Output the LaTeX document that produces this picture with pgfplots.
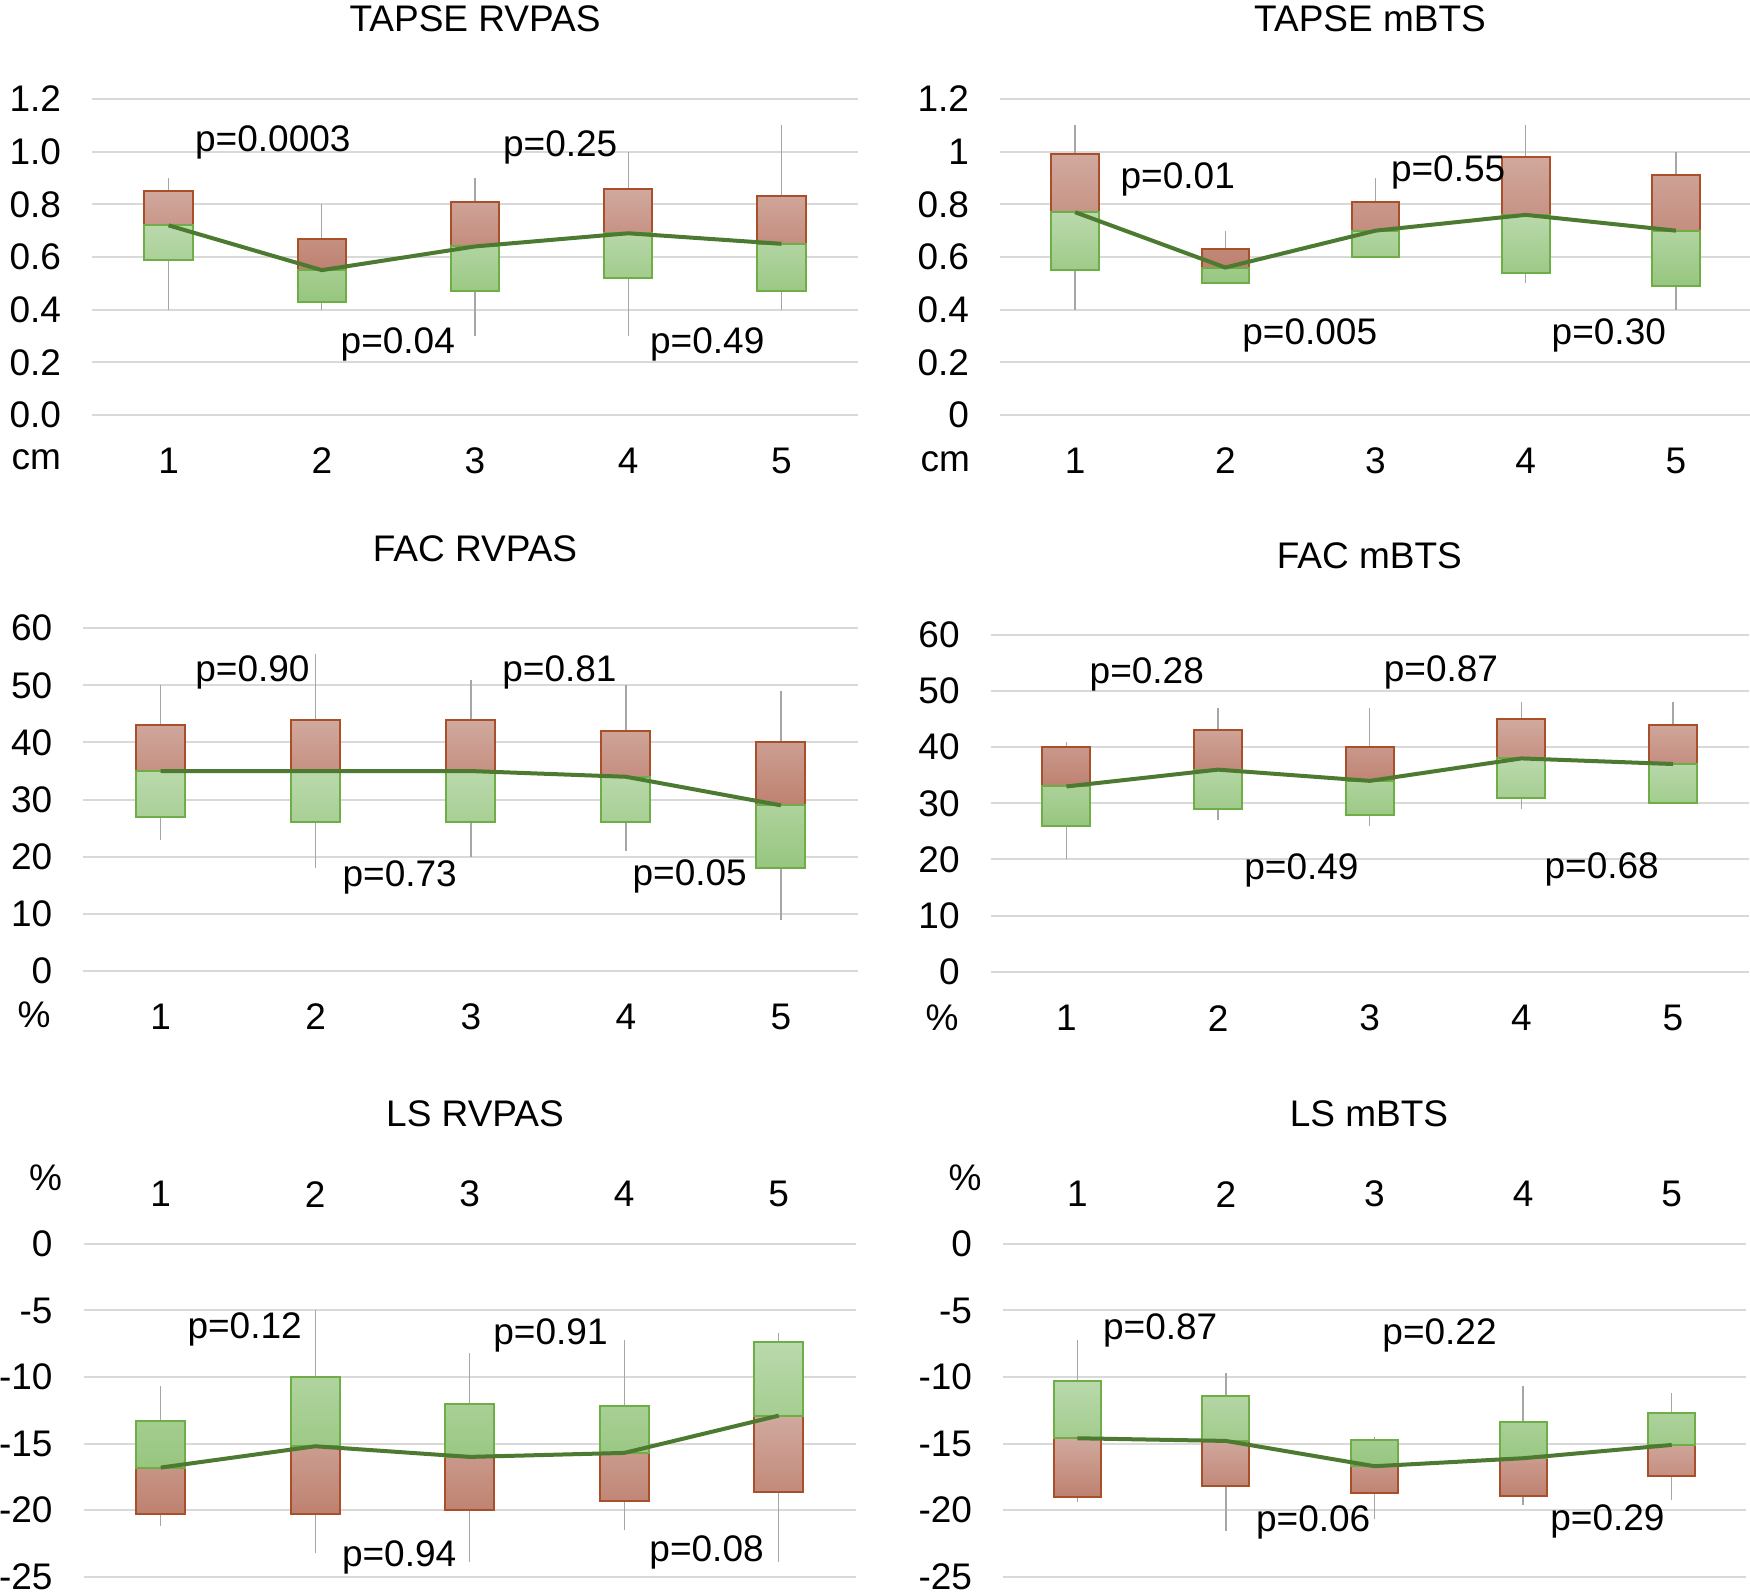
\documentclass[border=0pt]{standalone}
\usepackage{pgfplots}
\pgfplotsset{compat=1.18}
\usepackage{pgfplotstable}
\usepackage{fontspec}
\setmainfont{Liberation Sans}

\definecolor{gridc}{HTML}{D9D9D9}
\definecolor{whisk}{HTML}{A6A6A6}
\definecolor{rtop}{HTML}{D1A99E}
\definecolor{rbot}{HTML}{BE8170}
\definecolor{redb}{HTML}{A9502B}
\definecolor{gtop}{HTML}{BAD9AC}
\definecolor{gbot}{HTML}{97C67F}
\definecolor{greenb}{HTML}{6FAD47}
\definecolor{medc}{HTML}{4B7A30}

% near = box end nearer to zero, far = box end farther from zero
\pgfplotstableread{
x near med far lo hi
1 0.59 0.72 0.85 0.40 0.90
2 0.43 0.55 0.67 0.40 0.80
3 0.47 0.64 0.81 0.30 0.90
4 0.52 0.69 0.86 0.30 1.00
5 0.47 0.65 0.83 0.40 1.10
}\tR
\pgfplotstableread{
x near med far lo hi
1 0.55 0.77 0.99 0.40 1.10
2 0.50 0.56 0.63 0.50 0.70
3 0.60 0.70 0.81 0.60 0.90
4 0.54 0.76 0.98 0.50 1.10
5 0.49 0.70 0.91 0.40 1.00
}\tM
\pgfplotstableread{
x near med far lo hi
1 27 35 43 23 50
2 26 35 44 18 55.5
3 26 35 44 20 51
4 26 34 42 21 50
5 18 29 40 9 49
}\fR
\pgfplotstableread{
x near med far lo hi
1 26 33 40 20 41
2 29 36 43 27 47
3 28 34 40 26 47
4 31 38 45 29 48
5 30 37 44 30 48
}\fM
\pgfplotstableread{
x near med far lo hi
1 -13.3 -16.8 -20.3 -21.2 -10.7
2 -10.0 -15.2 -20.3 -23.2 -5.0
3 -12.0 -16.0 -20.0 -23.9 -8.2
4 -12.2 -15.7 -19.3 -21.5 -7.2
5 -7.4 -12.9 -18.6 -23.9 -6.7
}\lR
\pgfplotstableread{
x near med far lo hi
1 -10.3 -14.6 -19.0 -19.4 -7.2
2 -11.4 -14.8 -18.2 -21.6 -9.7
3 -14.7 -16.7 -18.7 -20.7 -14.5
4 -13.4 -16.1 -18.9 -19.6 -10.7
5 -12.7 -15.1 -17.4 -19.2 -11.2
}\lM

\tikzset{plab/.style={anchor=base west, inner sep=0pt}}

\pgfplotsset{
  base/.style={scale only axis, anchor=south west, clip=false,
    xmin=0.5, xmax=5.5, xtick={1,2,3,4,5}},
  P1/.style={base, at={(36.8bp,472.4bp)}, width=306.4bp, height=126.4bp, ymin=0, ymax=1.2},
  P2/.style={base, at={(400bp,472.4bp)}, width=300.4bp, height=126.4bp, ymin=0, ymax=1.2},
  P3/.style={base, at={(33.28bp,250bp)}, width=310.1bp, height=137.1bp, ymin=0, ymax=60},
  P4/.style={base, at={(396.24bp,249.72bp)}, width=303.3bp, height=134.7bp, ymin=0, ymax=60},
  P5/.style={base, at={(33.4bp,7.72bp)}, width=309bp, height=133.1bp, ymin=-25, ymax=0},
  P6/.style={base, at={(401.2bp,7.72bp)}, width=297.2bp, height=133.1bp, ymin=-25, ymax=0},
  gridax/.style={axis line style={draw=none}, major tick length=0pt,
    tick style={draw=none}, ymajorgrids,
    grid style={draw=gridc, line width=0.8bp},
    xticklabels={1,2,3,4,5},
    yticklabel style={anchor=east, inner sep=0pt, xshift=-12.2bp},
    xticklabel style={anchor=center, inner sep=0pt}},
  boxax/.style={hide axis, ybar stacked, bar width=0.317},
  redbar/.style={draw=redb, line width=0.8bp, top color=rtop, bottom color=rbot},
  greenbar/.style={draw=greenb, line width=0.8bp, top color=gtop, bottom color=gbot},
  whisker/.style={draw=none, mark=none,
    error bars/.cd, y dir=plus, y explicit, error mark=none,
    error bar style={draw=whisk, line width=0.55bp, solid}},
  medline/.style={draw=medc, line width=1.6bp, mark=none},
}

\newcommand\panel[6]{%
\begin{axis}[#1, gridax, #3]
\addplot[whisker] table[x=x, y=lo, y error expr=\thisrow{hi}-\thisrow{lo}] {#2};
\end{axis}
\begin{axis}[#1, boxax]
\addplot[draw=none, fill=none] table[x=x, y=near] {#2};
\addplot[#4] table[x=x, y expr=\thisrow{med}-\thisrow{near}] {#2};
\addplot[#5] table[x=x, y expr=\thisrow{far}-\thisrow{med}] {#2};
\end{axis}
\begin{axis}[#1, hide axis]
\addplot[medline] table[x=x, y=med] {#2};
#6
\end{axis}}

\begin{document}
\fontsize{14.8bp}{17.5bp}\selectfont
\begin{tikzpicture}
\useasboundingbox (0,0) rectangle (700bp,638.4bp);

\panel{P1}{\tR}{ytick={0,0.2,0.4,0.6,0.8,1.0,1.2}, yticklabels={0.0,0.2,0.4,0.6,0.8,1.0,1.2}, xticklabel style={yshift=-18.4bp}}{greenbar}{redbar}{%
\node[plab] at (axis cs:1.17,1.00) {p=0.0003};
\node[plab] at (axis cs:3.18,0.981) {p=0.25};
\node[plab] at (axis cs:2.12,0.234) {p=0.04};
\node[plab] at (axis cs:4.14,0.234) {p=0.49};
\node[anchor=east, inner sep=0pt, xshift=-12.2bp, yshift=-17.8bp] at (rel axis cs:0,0) {cm};}

\panel{P2}{\tM}{ytick={0,0.2,0.4,0.6,0.8,1.0,1.2}, yticklabels={0,0.2,0.4,0.6,0.8,1,1.2}, xticklabel style={yshift=-18.4bp}}{greenbar}{redbar}{%
\node[plab] at (axis cs:1.30,0.861) {p=0.01};
\node[plab] at (axis cs:3.10,0.886) {p=0.55};
\node[plab] at (axis cs:2.11,0.266) {p=0.005};
\node[plab] at (axis cs:4.17,0.266) {p=0.30};
\node[anchor=east, inner sep=0pt, xshift=-11.8bp, yshift=-18.8bp] at (rel axis cs:0,0) {cm};}

\panel{P3}{\fR}{ytick={0,10,20,30,40,50,60}, yticklabels={0,10,20,30,40,50,60}, xticklabel style={yshift=-18.3bp}}{greenbar}{redbar}{%
\node[plab] at (axis cs:1.22,50.66) {p=0.90};
\node[plab] at (axis cs:3.20,50.66) {p=0.81};
\node[plab] at (axis cs:2.17,14.76) {p=0.73};
\node[plab] at (axis cs:4.04,14.94) {p=0.05};
\node[anchor=east, inner sep=0pt, xshift=-12.9bp, yshift=-17.6bp] at (rel axis cs:0,0) {\%};}

\panel{P4}{\fM}{ytick={0,10,20,30,40,50,60}, yticklabels={0,10,20,30,40,50,60}, xticklabel style={yshift=-18.6bp}}{greenbar}{redbar}{%
\node[plab] at (axis cs:1.15,51.28) {p=0.28};
\node[plab] at (axis cs:3.09,51.7) {p=0.87};
\node[plab] at (axis cs:2.17,16.35) {p=0.49};
\node[plab] at (axis cs:4.15,16.65) {p=0.68};
\node[anchor=east, inner sep=0pt, xshift=-12.6bp, yshift=-18.6bp] at (rel axis cs:0,0) {\%};}

\panel{P5}{\lR}{ytick={-25,-20,-15,-10,-5,0}, yticklabels={-25,-20,-15,-10,-5,0}, xticklabel pos=upper, xticklabel style={yshift=19.9bp}}{greenbar}{redbar}{%
\node[plab] at (axis cs:1.17,-7.09) {p=0.12};
\node[plab] at (axis cs:3.15,-7.59) {p=0.91};
\node[plab] at (axis cs:2.17,-24.25) {p=0.94};
\node[plab] at (axis cs:4.16,-23.87) {p=0.08};
\node[anchor=east, inner sep=0pt, xshift=-8.4bp, yshift=26.3bp] at (rel axis cs:0,1) {\%};}

\panel{P6}{\lM}{ytick={-25,-20,-15,-10,-5,0}, yticklabels={-25,-20,-15,-10,-5,0}, xticklabel pos=upper, xticklabel style={yshift=19.9bp}}{greenbar}{redbar}{%
\node[plab] at (axis cs:1.17,-7.21) {p=0.87};
\node[plab] at (axis cs:3.05,-7.59) {p=0.22};
\node[plab] at (axis cs:2.20,-21.62) {p=0.06};
\node[plab] at (axis cs:4.18,-21.5) {p=0.29};
\node[anchor=east, inner sep=0pt, xshift=-8.4bp, yshift=26.4bp] at (rel axis cs:0,1) {\%};}

\node[anchor=base] at (190bp,625.72bp) {TAPSE RVPAS};
\node[anchor=base] at (548bp,625.72bp) {TAPSE mBTS};
\node[anchor=base] at (190bp,413.72bp) {FAC RVPAS};
\node[anchor=base] at (547.76bp,411.08bp) {FAC mBTS};
\node[anchor=base] at (190bp,187.72bp) {LS RVPAS};
\node[anchor=base] at (547.6bp,187.72bp) {LS mBTS};
\end{tikzpicture}
\end{document}
